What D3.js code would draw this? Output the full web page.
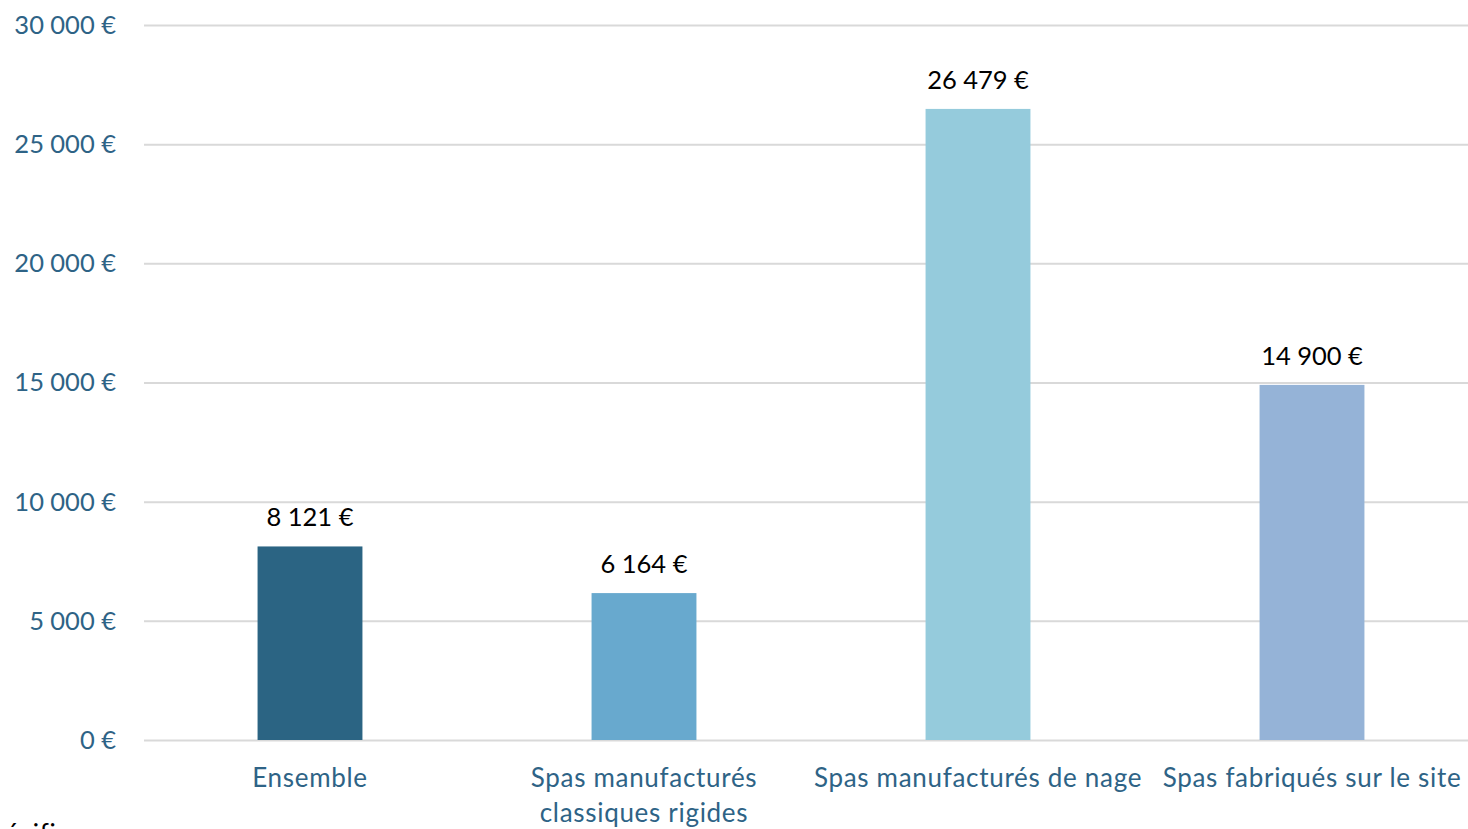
<!DOCTYPE html>
<html><head><meta charset="utf-8">
<script src="https://cdn.jsdelivr.net/npm/d3@7"></script>
<style>html,body{margin:0;padding:0;background:#fff;overflow:hidden}</style>
</head><body>
<svg id="c" width="1468" height="829"></svg>
<script>
const categories = [["Ensemble"], ["Spas manufacturés", "classiques rigides"], ["Spas manufacturés de nage"], ["Spas fabriqués sur le site"]];
const values = [8121, 6164, 26479, 14900];
const colors = ["#2b6483", "#68a9ce", "#95cbdc", "#95b3d7"];
const tickValues = [0, 5000, 10000, 15000, 20000, 25000, 30000];

const font = "Lato, 'Open Sans', sans-serif";
const fmt = v => d3.format(",")(v).replace(/,/g, "\u202F") + " €";
const svg = d3.select("#c");
const x0 = 144, x1 = 1468, yTop = 25, yBot = 740;
const x = d3.scaleBand().domain(d3.range(categories.length)).range([143, 1479]).paddingInner(0.686).paddingOuter(0.343);
const y = d3.scaleLinear().domain([0, 30000]).range([yBot, yTop]);

// grid
svg.append("g").selectAll("line").data(tickValues).join("line")
  .attr("x1", x0).attr("x2", x1).attr("y1", d => y(d) + 0.5).attr("y2", d => y(d) + 0.5)
  .attr("stroke", "#d9d9d9").attr("stroke-width", 2);

// y labels
svg.append("g").selectAll("text").data(tickValues).join("text")
  .attr("x", 116).attr("y", d => y(d)).attr("dy", "0.35em").attr("text-anchor", "end")
  .attr("font-family", font).attr("font-size", 25.5).attr("fill", "#2e6386")
  .text(fmt);

// bars
svg.append("g").selectAll("rect").data(values).join("rect")
  .attr("x", (d, i) => x(i)).attr("width", x.bandwidth())
  .attr("y", d => y(d)).attr("height", d => y(0) - y(d))
  .attr("fill", (d, i) => colors[i]);

// value labels
svg.append("g").selectAll("text").data(values).join("text")
  .attr("x", (d, i) => x(i) + x.bandwidth() / 2).attr("y", d => y(d) - 20)
  .attr("text-anchor", "middle").attr("font-family", font).attr("font-size", 25.5).attr("fill", "#000")
  .text(fmt);

// category labels
const cl = svg.append("g").selectAll("text").data(categories).join("text")
  .attr("x", (d, i) => x(i) + x.bandwidth() / 2).attr("y", 787)
  .attr("text-anchor", "middle").attr("font-family", font).attr("font-size", 26)
  .attr("letter-spacing", 0.7).attr("fill", "#2e6386");
cl.each(function(d, i) {
  const t = d3.select(this);
  d.forEach((line, j) => t.append("tspan").attr("x", x(i) + x.bandwidth() / 2).attr("dy", j ? 35 : 0).text(line));
});

// cut-off footnote (cropped in the reference too)
svg.append("text").attr("x", -22).attr("y", 843).attr("font-family", font).attr("font-size", 26)
  .attr("letter-spacing", 0.7).attr("fill", "#000").text("spécifique");
</script>
</body></html>
